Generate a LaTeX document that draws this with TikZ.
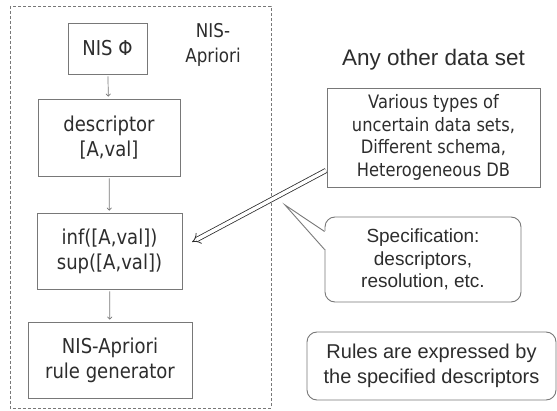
\documentclass[tikz,border=0pt]{standalone}
\usepackage{fontspec}
\setmainfont{Liberation Sans}
\newfontfamily\tah{DejaVu Sans}[FakeStretch=0.88]
\usetikzlibrary{arrows.meta,calc}
\definecolor{tcol}{RGB}{45,45,45}
\definecolor{bcol}{RGB}{120,120,120}
\begin{document}
\begin{tikzpicture}[x=1pt,y=-1pt,
  lbox/.style={draw=bcol,line width=0.9pt,inner sep=0pt,align=center,text=tcol,
    font=\tah\fontsize{20.5}{25}\selectfont},
  rbox/.style={draw=bcol,line width=0.9pt,inner sep=0pt,align=center,text=tcol,
    font=\fontsize{19}{22.5}\selectfont},
  flow/.style={draw=bcol,line width=0.7pt,-{To[length=3pt,width=5pt]},shorten <=2pt,shorten >=2pt},
  frame/.style={draw=bcol,line width=0.9pt,dash pattern=on 3pt off 2pt}]
\useasboundingbox (0,0) rectangle (557,411);
\fill[white] (0,0) rectangle (557,411);
\draw[frame] (10,6) rectangle (271,408);
\node[text=tcol,align=center,font=\tah\fontsize{19}{25}\selectfont] (lab) at (213,45) {NIS-\\Apriori};
\node[lbox,minimum width=79,minimum height=51] (nis) at (107.5,48.5) {NIS Φ};
\node[lbox,minimum width=142,minimum height=77] (desc) at (109,137.5) {descriptor\\{}[A,val]};
\node[lbox,minimum width=145,minimum height=76] (inf) at (109.5,251) {inf([A,val])\\sup([A,val])};
\node[lbox,minimum width=164,minimum height=76] (gen) at (110,360) {NIS-Apriori\\rule generator};
\draw[flow] (nis) -- (desc);
\draw[flow] (desc) -- (inf);
\draw[flow] (inf) -- (gen);
\node[text=tcol,font=\fontsize{22.5}{25}\selectfont] (title) at (433.5,60) {Any other data set};
\node[rbox,font=\tah\fontsize{18.5}{22.7}\selectfont,minimum width=213,minimum height=99] (var) at (433.5,137.5) {Various types of\\uncertain data sets,\\Different schema,\\Heterogeneous DB};
\node[rbox,rounded corners=10pt,minimum width=196,minimum height=85] (spec) at (423,259.5) {Specification:\\descriptors,\\resolution, etc.};
\node[rbox,rounded corners=10pt,font=\fontsize{20}{25}\selectfont,minimum width=249,minimum height=68] (rules) at (431.5,366) {Rules are expressed by\\the specified descriptors};
% callout pointer
\coordinate (ctip) at (285,205);
\fill[white] ($(spec.west)+(-1.5,-28)$) rectangle ($(spec.west)+(1.5,-10)$);
\draw[bcol,line width=0.9pt] ($(spec.west)+(0,-28)$) -- (ctip) -- ($(spec.west)+(0,-10)$);
% double arrow
\coordinate (dtail) at (326,170.5);
\coordinate (dtip) at (192,242);
\draw[tcol,line width=0.8pt,double=white,double distance=3.5pt,-{Implies}] (dtail) -- (dtip);
\end{tikzpicture}
\end{document}
